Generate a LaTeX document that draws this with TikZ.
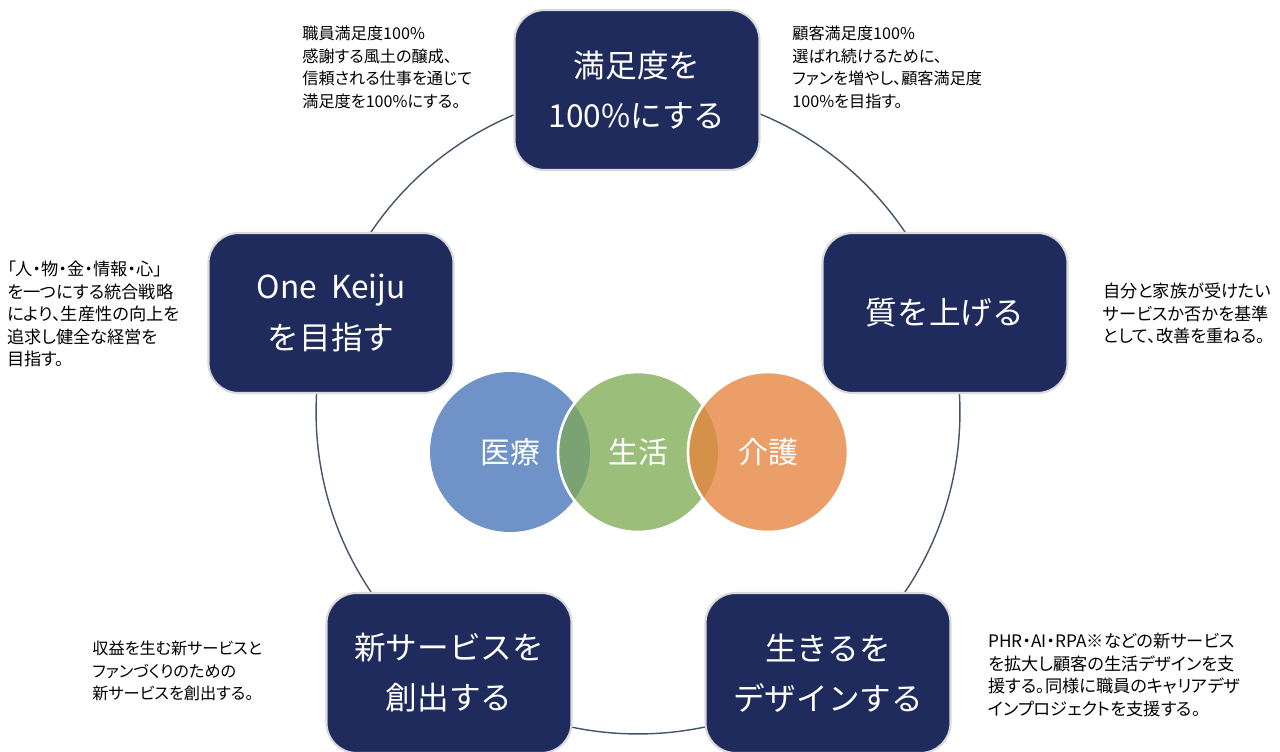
\documentclass[tikz,border=0pt]{standalone}
\usepackage{fontspec}
\setmainfont{Noto Sans CJK JP}
\newfontfamily\notefont[RawFeature=+palt]{Noto Sans CJK JP}
\definecolor{boxnavy}{HTML}{1F2B5C}
\definecolor{boxedge}{HTML}{DADADA}
\definecolor{ringline}{HTML}{44546A}
\definecolor{medblue}{HTML}{6F92C9}
\definecolor{lifegreen}{HTML}{9BBF7A}
\definecolor{careorange}{HTML}{EB9E67}
\definecolor{medlife}{HTML}{7AA273}
\definecolor{lifecare}{HTML}{D59049}

\begin{document}
\begin{tikzpicture}[x=0.02cm,y=-0.02cm]
              \tikzstyle{every node}+=[inner sep=0pt]
              \tikzstyle{goal}=[draw=boxedge, line width=1.2pt, fill=boxnavy, rounded corners=0.6cm, minimum width=4.9cm, minimum height=3.2cm, text=white, align=center, font=\fontsize{18}{28.5}\selectfont]
              \tikzstyle{note}=[anchor=north west, align=left, font=\notefont\fontsize{9.2}{12.8}\selectfont]
              \tikzstyle{widenote}=[note, font=\notefont\fontsize{9.8}{12.8}\selectfont]
              \tikzstyle{field}=[text=white, font=\fontsize{17}{20}\selectfont]
              \useasboundingbox (0,0) rectangle (1280,751);
              \clip (0,0) rectangle (1280,751);
              \coordinate (hub) at (638,412);
              \draw [ringline, line width=0.8pt] (hub) circle (6.44cm);
              \node [goal] (satisfy) at (637,90) {満足度を\\100\%にする};
              \node [goal] (quality) at (945,313) {質を上げる};
              \node [goal] (design) at (828,673) {生きるを\\デザインする};
              \node [goal] (create) at (449,673) {新サービスを\\創出する};
              \node [goal] (onekeiju) at (331,313) {One\ \ Keiju\\を目指す};
              \coordinate (c1) at (510,452);
              \coordinate (c2) at (638,452);
              \coordinate (c3) at (768,452);
              \fill [medblue] (c1) circle (1.6cm);
              \fill [lifegreen] (c2) circle (1.6cm);
              \begin{scope}
                \clip (c1) circle (1.6cm);
                \fill [medlife] (c2) circle (1.6cm);
              \end{scope}
              \draw [white, line width=1.5pt] (c2) circle (1.6cm);
              \fill [careorange] (c3) circle (1.6cm);
              \begin{scope}
                \clip (c2) circle (1.6cm);
                \fill [lifecare] (c3) circle (1.6cm);
              \end{scope}
              \draw [white, line width=1.5pt] (c3) circle (1.6cm);
              \node [field] (iryo) at (c1) {医療};
              \node [field] (seikatsu) at (c2) {生活};
              \node [field] (kaigo) at (c3) {介護};
              \node [note] (staffnote) at (302,26) {職員満足度100\%\\感謝する風土の醸成、\\信頼される仕事を通じて\\満足度を100\%にする。};
              \node [note] (clientnote) at (792,26) {顧客満足度100\%\\選ばれ続けるために、\\ファンを増やし、顧客満足度\\100\%を目指す。};
              \node [widenote] (strategynote) at (7,261) {「人・物・金・情報・心」\\を一つにする統合戦略\\により、生産性の向上を\\追求し健全な経営を\\目指す。};
              \node [widenote] (qualitynote) at (1103,283) {自分と家族が受けたい\\サービスか否かを基準\\として、改善を重ねる。};
              \node [note] (createnote) at (92,641) {収益を生む新サービスと\\ファンづくりのための\\新サービスを創出する。};
              \node [widenote] (designnote) at (988,633) {PHR・AI・RPA※などの新サービス\\を拡大し顧客の生活デザインを支\\援する。同様に職員のキャリアデザ\\インプロジェクトを支援する。};
            \end{tikzpicture}
\end{document}
